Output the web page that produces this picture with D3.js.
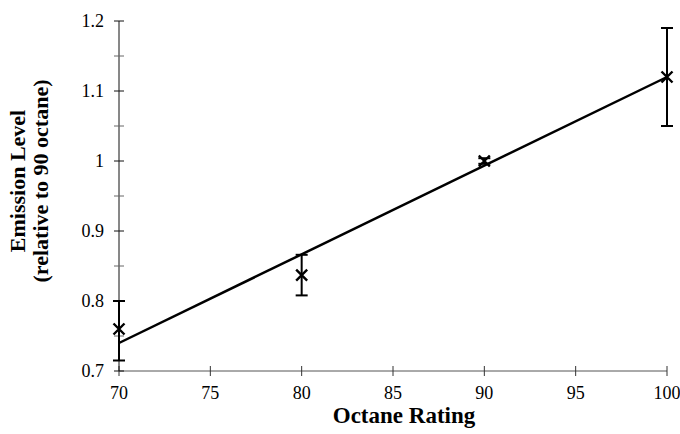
<!DOCTYPE html>
<html>
<head>
<meta charset="utf-8">
<script src="https://cdn.jsdelivr.net/npm/d3@7"></script>
<style>
  body { margin: 0; background: #fff; }
  svg { display: block; font-family: "Liberation Serif", "Times New Roman", serif; }
</style>
</head>
<body>
<svg id="chart" width="680" height="434"></svg>
<script>
// measured points (octane rating vs emission relative to 90 octane)
const octane = [70, 80, 90, 100];
const emission = [0.76, 0.837, 1.0, 1.12];
const errLow = [0.715, 0.808, 0.996, 1.05];
const errHigh = [0.80, 0.866, 1.004, 1.19];
// fitted trend line end points
const fitX = [70, 100];
const fitY = [0.74, 1.12];
const xTicks = [70, 75, 80, 85, 90, 95, 100];
const yTicks = [0.7, 0.8, 0.9, 1, 1.1, 1.2];
const yMinor = [0.75, 0.85, 0.95, 1.05, 1.15];

const svg = d3.select('#chart');
const x = d3.scaleLinear().domain([70, 100]).range([119, 667]);
const y = d3.scaleLinear().domain([0.7, 1.2]).range([371, 21]);

// x axis
svg.append('line')
  .attr('x1', x(70)).attr('x2', x(100))
  .attr('y1', y(0.7)).attr('y2', y(0.7))
  .attr('stroke', '#555').attr('stroke-width', 1);
svg.selectAll('.xtick').data(xTicks).enter()
  .append('line')
  .attr('class', 'xtick')
  .attr('x1', (d) => x(d)).attr('x2', (d) => x(d))
  .attr('y1', y(0.7) - 5).attr('y2', y(0.7) + 5)
  .attr('stroke', '#333').attr('stroke-width', 1);
svg.selectAll('.xlab').data(xTicks).enter()
  .append('text')
  .attr('class', 'xlab')
  .attr('x', (d) => x(d)).attr('y', 399)
  .attr('text-anchor', 'middle')
  .style('font-size', '18px')
  .text((d) => d);

// y axis
svg.append('line')
  .attr('x1', x(70)).attr('x2', x(70))
  .attr('y1', y(0.7)).attr('y2', y(1.2))
  .attr('stroke', '#111').attr('stroke-width', 1);
svg.selectAll('.ytick').data(yTicks).enter()
  .append('line')
  .attr('class', 'ytick')
  .attr('x1', x(70) - 5).attr('x2', x(70) + 5)
  .attr('y1', (d) => y(d)).attr('y2', (d) => y(d))
  .attr('stroke', '#111').attr('stroke-width', 1);
svg.selectAll('.yminor').data(yMinor).enter()
  .append('line')
  .attr('class', 'yminor')
  .attr('x1', x(70) - 5).attr('x2', x(70) + 5)
  .attr('y1', (d) => y(d)).attr('y2', (d) => y(d))
  .attr('stroke', '#666').attr('stroke-width', 1);
svg.selectAll('.ylab').data(yTicks).enter()
  .append('text')
  .attr('class', 'ylab')
  .attr('x', 104).attr('y', (d) => y(d) + 6)
  .attr('text-anchor', 'end')
  .style('font-size', '18px')
  .text((d) => d);

// axis titles
svg.append('text')
  .attr('x', 404).attr('y', 423)
  .attr('text-anchor', 'middle')
  .style('font-size', '23px').style('font-weight', 'bold')
  .text('Octane Rating');
const yTitle = svg.append('text')
  .attr('transform', 'translate(0,181) rotate(-90)')
  .attr('text-anchor', 'middle')
  .style('font-size', '22px').style('font-weight', 'bold');
yTitle.append('tspan').attr('x', 0).attr('y', 25).text('Emission Level');
yTitle.append('tspan').attr('x', 0).attr('y', 48).text('(relative to 90 octane)');

// fit line
svg.append('line')
  .attr('x1', x(fitX[0])).attr('y1', y(fitY[0]))
  .attr('x2', x(fitX[1])).attr('y2', y(fitY[1]))
  .attr('stroke', '#000').attr('stroke-width', 2.5);

// error bars
const pts = octane.map((o, i) => ({ o, v: emission[i], lo: errLow[i], hi: errHigh[i] }));
const bars = svg.selectAll('.err').data(pts).enter().append('g').attr('class', 'err')
  .attr('stroke', '#000').attr('stroke-width', 2);
bars.append('line')
  .attr('x1', (d) => x(d.o)).attr('x2', (d) => x(d.o))
  .attr('y1', (d) => y(d.lo)).attr('y2', (d) => y(d.hi));
bars.append('line')
  .attr('x1', (d) => x(d.o) - 6).attr('x2', (d) => x(d.o) + 6)
  .attr('y1', (d) => y(d.lo)).attr('y2', (d) => y(d.lo));
bars.append('line')
  .attr('x1', (d) => x(d.o) - 6).attr('x2', (d) => x(d.o) + 6)
  .attr('y1', (d) => y(d.hi)).attr('y2', (d) => y(d.hi));

// x markers
svg.selectAll('.mark').data(pts).enter().append('path').attr('class', 'mark')
  .attr('d', (d) => {
    const cx = x(d.o), cy = y(d.v), r = 5.5;
    return `M${cx - r},${cy - r}L${cx + r},${cy + r}M${cx - r},${cy + r}L${cx + r},${cy - r}`;
  })
  .attr('stroke', '#000').attr('stroke-width', 2.4).attr('fill', 'none');
</script>
</body>
</html>
